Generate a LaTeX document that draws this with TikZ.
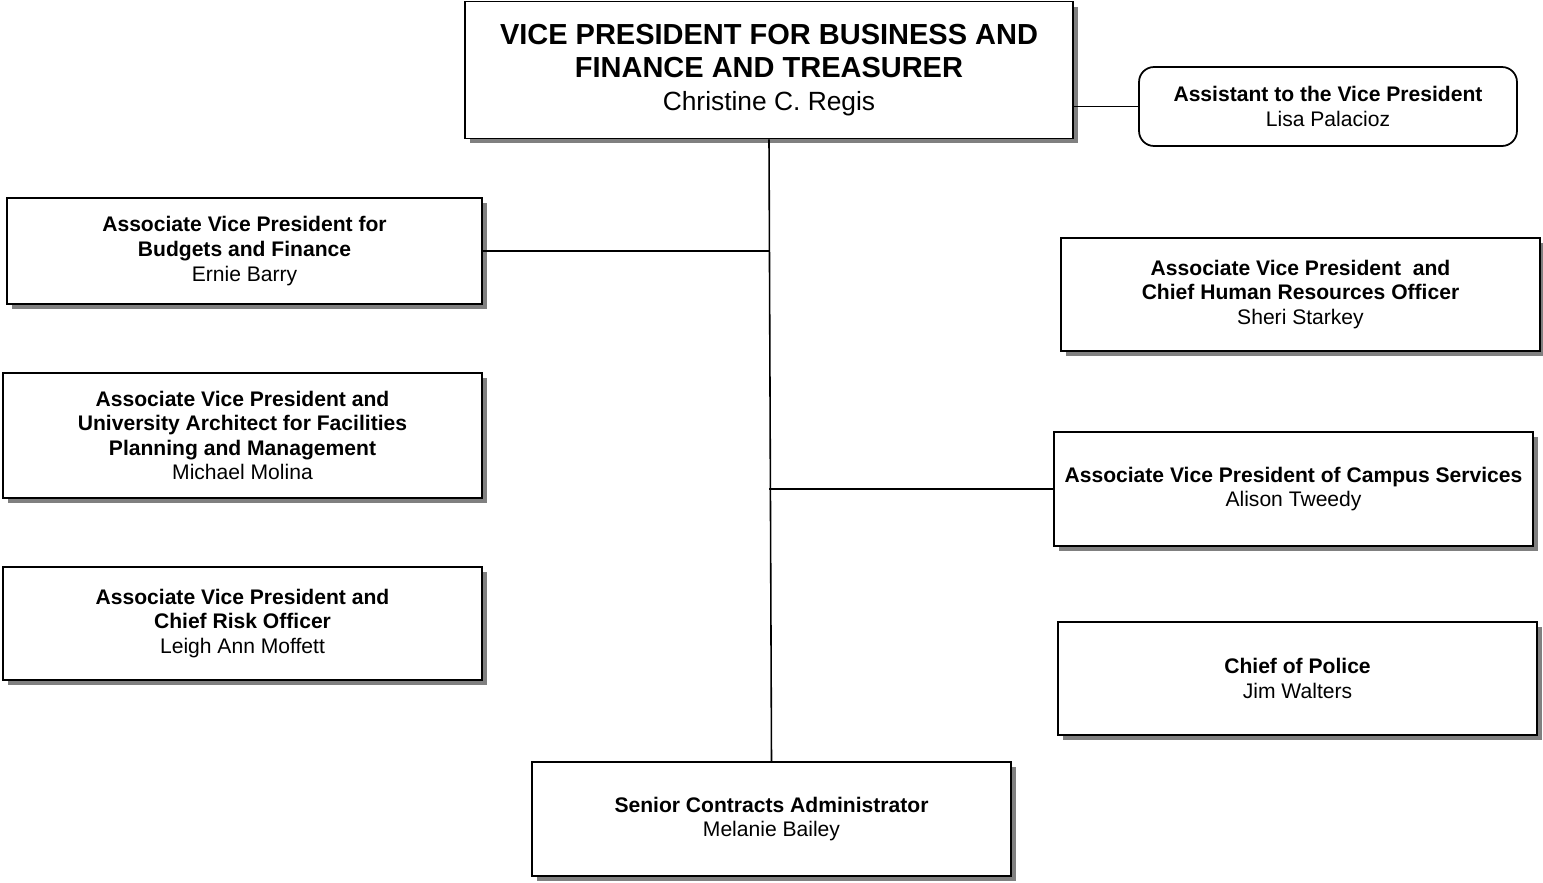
\documentclass[tikz,border=0pt]{standalone}
\usepackage{fontspec}
\setmainfont{Liberation Sans}
\usetikzlibrary{shadows}

\tikzset{
  poste/.style={draw, line width=1pt, fill=white, align=center, inner sep=0pt,
    font=\fontsize{12}{14}\selectfont,
    drop shadow={shadow xshift=0.1cm, shadow yshift=-0.1cm, fill=black!50, opacity=1}},
  lien/.style={line width=0.9pt}
}

\begin{document}
\begin{tikzpicture}[x=0.02cm, y=-0.02cm]
        \useasboundingbox (0,0) rectangle (1543,883);

        % boite du vice president
        \node[poste, font=\fontsize{16.5}{18.6}\selectfont,
              minimum width=12.16cm, minimum height=2.74cm] (vp) at (769,70)
        {\textbf{VICE PRESIDENT FOR BUSINESS AND}\\
         \textbf{FINANCE AND TREASURER}\\
         {\fontsize{15}{18.6}\selectfont Christine C. Regis}};

        % assistant (coins arrondis, sans ombre)
        \node[draw, line width=1pt, rounded corners=0.3cm, align=center, inner sep=0pt,
              font=\fontsize{12}{14}\selectfont,
              minimum width=7.56cm, minimum height=1.58cm] (assist) at (1328,106.5)
        {\textbf{Assistant to the Vice President}\\Lisa Palacioz};

        % colonne de gauche
        \node[poste, minimum width=9.5cm, minimum height=2.12cm] (budget) at (244.5,251)
        {\textbf{Associate Vice President for}\\\textbf{Budgets and Finance}\\Ernie Barry};
        \node[poste, minimum width=9.58cm, minimum height=2.5cm] (archi) at (242.5,435.5)
        {\textbf{Associate Vice President and}\\\textbf{University Architect for Facilities}\\
         \textbf{Planning and Management}\\Michael Molina};
        \node[poste, minimum width=9.58cm, minimum height=2.26cm] (risque) at (242.5,623.5)
        {\textbf{Associate Vice President and}\\\textbf{Chief Risk Officer}\\Leigh Ann Moffett};

        % colonne de droite
        \node[poste, minimum width=9.58cm, minimum height=2.26cm] (rh) at (1300.5,294.5)
        {\textbf{Associate Vice President\ \ and}\\\textbf{Chief Human Resources Officer}\\Sheri Starkey};
        \node[poste, minimum width=9.58cm, minimum height=2.28cm] (campus) at (1293.5,489)
        {\textbf{Associate Vice President of Campus Services}\\Alison Tweedy};
        \node[poste, minimum width=9.58cm, minimum height=2.26cm] (police) at (1297.5,678.5)
        {\textbf{Chief of Police}\\Jim Walters};

        % en bas
        \node[poste, minimum width=9.58cm, minimum height=2.28cm] (contrats) at (771.5,819)
        {\textbf{Senior Contracts Administrator}\\Melanie Bailey};

        % liens
        \draw[lien] (vp.east |- assist.west) -- (assist.west);
        \draw[lien] (vp.south) -- (contrats.north);
        \draw[lien] (budget.east) -- (budget.east -| vp.south);
        \draw[lien] (campus.west) -- (campus.west -| vp.south);
    \end{tikzpicture}
\end{document}
